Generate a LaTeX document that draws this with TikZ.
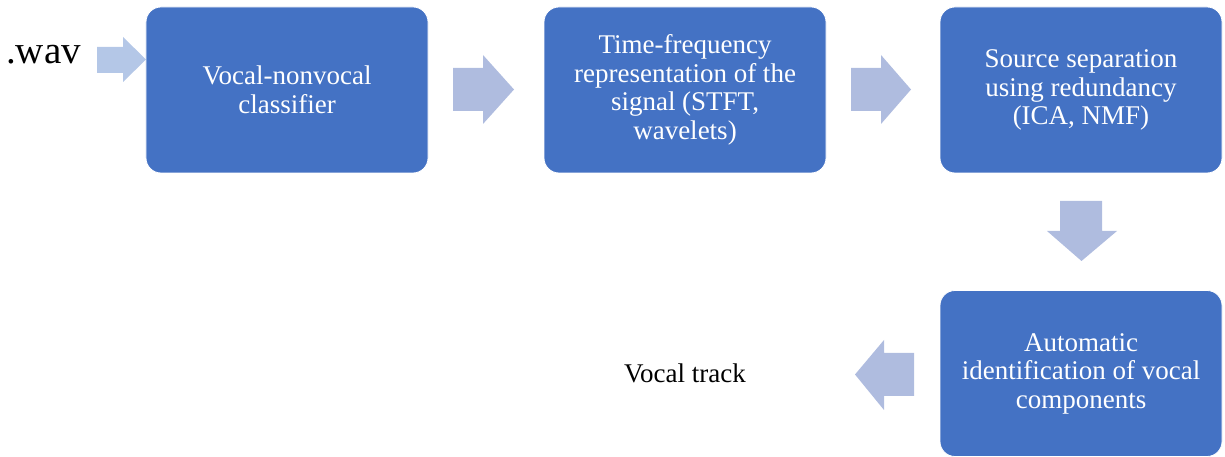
\documentclass[tikz,border=0pt]{standalone}
\usepackage{fontspec}
\setmainfont{Liberation Serif}
\definecolor{boxblue}{HTML}{4472C4}
\definecolor{arrowblue}{HTML}{AFBCDF}
\definecolor{arrowlight}{HTML}{B4C7E7}
\begin{document}
\begin{tikzpicture}[x=1bp,y=-1bp,
  stagebox/.style={draw=white,line width=0.8bp,fill=boxblue,rounded corners=15bp,
    minimum width=282bp,minimum height=166bp,inner sep=0pt,align=center,
    text=white,font=\fontsize{27bp}{28.5bp}\selectfont},
  blockarrow/.style={fill=arrowblue,draw=none},
  plain/.style={inner sep=0pt,text=black,font=\fontsize{27bp}{28.5bp}\selectfont}]
\useasboundingbox (0,0) rectangle (1225,457);
\node[stagebox] (b1) at (287,90) {Vocal-nonvocal\\classifier};
\node[stagebox] (b2) at (685,90) {Time-frequency\\representation of the\\signal (STFT,\\wavelets)};
\node[stagebox] (b3) at (1081,90) {Source separation\\using redundancy\\(ICA, NMF)};
\node[stagebox] (b4) at (1081,373.5) {Automatic\\identification of vocal\\components};
\node[plain,anchor=base,font=\fontsize{39bp}{42bp}\selectfont] (wav) at (43.5,64) {.wav};
\node[plain,anchor=base] (out) at (685,383) {Vocal track};
% block arrows
\fill[arrowlight] (97,47) -- (123,47) -- (123,37) -- (146,59.5) -- (123,82) -- (123,73) -- (97,73) -- cycle;
\fill[blockarrow] (453,68) -- (483,68) -- (483,55) -- (514,89.5) -- (483,124) -- (483,111) -- (453,111) -- cycle;
\fill[blockarrow] (851,68) -- (881,68) -- (881,55) -- (911,89.5) -- (881,124) -- (881,111) -- (851,111) -- cycle;
\fill[blockarrow] (1060,201) -- (1102,201) -- (1102,231) -- (1117,231) -- (1081.5,261) -- (1047,231) -- (1060,231) -- cycle;
\fill[blockarrow] (914,353) -- (884,353) -- (884,340) -- (855,374.5) -- (884,410) -- (884,396) -- (914,396) -- cycle;
\end{tikzpicture}
\end{document}
